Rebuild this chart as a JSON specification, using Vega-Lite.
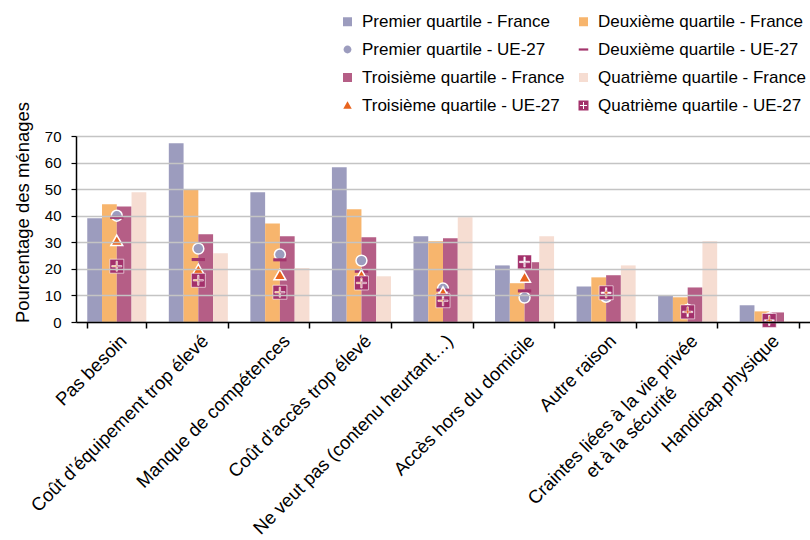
{
  "$schema": "https://vega.github.io/schema/vega-lite/v6.json",
  "width": 734,
  "height": 186,
  "autosize": {"type": "none"},
  "padding": {"left": 76, "top": 136, "right": 0, "bottom": 218},
  "background": "white",
  "config": {
    "font": "Liberation Sans",
    "view": {"stroke": null},
    "axis": {"labelColor": "black", "titleColor": "black", "domainColor": "black", "tickColor": "black"},
    "legend": {
      "orient": "none",
      "legendX": 263,
      "legendY": -123,
      "columns": 2,
      "columnPadding": 10,
      "rowPadding": 10,
      "labelFontSize": 17,
      "labelColor": "black",
      "labelOffset": 6,
      "labelLimit": 400,
      "symbolSize": 100,
      "symbolStrokeWidth": 0,
      "symbolOpacity": 1
    }
  },
  "datasets": {
    "bars": [
      {"raison": "Pas besoin", "serie": "Premier quartile - France", "valeur": 39},
      {"raison": "Pas besoin", "serie": "Deuxième quartile - France", "valeur": 44.3},
      {"raison": "Pas besoin", "serie": "Troisième quartile - France", "valeur": 43.5},
      {"raison": "Pas besoin", "serie": "Quatrième quartile - France", "valeur": 48.8},
      {"raison": "Coût d’équipement trop élevé", "serie": "Premier quartile - France", "valeur": 67.3},
      {"raison": "Coût d’équipement trop élevé", "serie": "Deuxième quartile - France", "valeur": 50},
      {"raison": "Coût d’équipement trop élevé", "serie": "Troisième quartile - France", "valeur": 33},
      {"raison": "Coût d’équipement trop élevé", "serie": "Quatrième quartile - France", "valeur": 25.9},
      {"raison": "Manque de compétences", "serie": "Premier quartile - France", "valeur": 48.8},
      {"raison": "Manque de compétences", "serie": "Deuxième quartile - France", "valeur": 37.1},
      {"raison": "Manque de compétences", "serie": "Troisième quartile - France", "valeur": 32.3},
      {"raison": "Manque de compétences", "serie": "Quatrième quartile - France", "valeur": 20.3},
      {"raison": "Coût d’accès trop élevé", "serie": "Premier quartile - France", "valeur": 58.2},
      {"raison": "Coût d’accès trop élevé", "serie": "Deuxième quartile - France", "valeur": 42.4},
      {"raison": "Coût d’accès trop élevé", "serie": "Troisième quartile - France", "valeur": 31.9},
      {"raison": "Coût d’accès trop élevé", "serie": "Quatrième quartile - France", "valeur": 17.2},
      {"raison": "Ne veut pas (contenu heurtant…)", "serie": "Premier quartile - France", "valeur": 32.3},
      {"raison": "Ne veut pas (contenu heurtant…)", "serie": "Deuxième quartile - France", "valeur": 30.4},
      {"raison": "Ne veut pas (contenu heurtant…)", "serie": "Troisième quartile - France", "valeur": 31.5},
      {"raison": "Ne veut pas (contenu heurtant…)", "serie": "Quatrième quartile - France", "valeur": 39.4},
      {"raison": "Accès hors du domicile", "serie": "Premier quartile - France", "valeur": 21.3},
      {"raison": "Accès hors du domicile", "serie": "Deuxième quartile - France", "valeur": 14.6},
      {"raison": "Accès hors du domicile", "serie": "Troisième quartile - France", "valeur": 22.5},
      {"raison": "Accès hors du domicile", "serie": "Quatrième quartile - France", "valeur": 32.3},
      {"raison": "Autre raison", "serie": "Premier quartile - France", "valeur": 13.4},
      {"raison": "Autre raison", "serie": "Deuxième quartile - France", "valeur": 16.8},
      {"raison": "Autre raison", "serie": "Troisième quartile - France", "valeur": 17.6},
      {"raison": "Autre raison", "serie": "Quatrième quartile - France", "valeur": 21.3},
      {"raison": "Craintes liées à la vie privée et à la sécurité", "serie": "Premier quartile - France", "valeur": 9.8},
      {"raison": "Craintes liées à la vie privée et à la sécurité", "serie": "Deuxième quartile - France", "valeur": 9.3},
      {"raison": "Craintes liées à la vie privée et à la sécurité", "serie": "Troisième quartile - France", "valeur": 13},
      {"raison": "Craintes liées à la vie privée et à la sécurité", "serie": "Quatrième quartile - France", "valeur": 30.4},
      {"raison": "Handicap physique", "serie": "Premier quartile - France", "valeur": 6.3},
      {"raison": "Handicap physique", "serie": "Deuxième quartile - France", "valeur": 4},
      {"raison": "Handicap physique", "serie": "Troisième quartile - France", "valeur": 3.6},
      {"raison": "Handicap physique", "serie": "Quatrième quartile - France", "valeur": 0.3}
    ],
    "points": [
      {"raison": "Pas besoin", "serie": "Premier quartile - UE-27", "valeur": 40},
      {"raison": "Pas besoin", "serie": "Deuxième quartile - UE-27", "valeur": 39.4},
      {"raison": "Pas besoin", "serie": "Troisième quartile - UE-27", "valeur": 30.5},
      {"raison": "Pas besoin", "serie": "Quatrième quartile - UE-27", "valeur": 21},
      {"raison": "Coût d’équipement trop élevé", "serie": "Premier quartile - UE-27", "valeur": 27.6},
      {"raison": "Coût d’équipement trop élevé", "serie": "Deuxième quartile - UE-27", "valeur": 23.5},
      {"raison": "Coût d’équipement trop élevé", "serie": "Troisième quartile - UE-27", "valeur": 19.5},
      {"raison": "Coût d’équipement trop élevé", "serie": "Quatrième quartile - UE-27", "valeur": 15.7},
      {"raison": "Manque de compétences", "serie": "Premier quartile - UE-27", "valeur": 25.4},
      {"raison": "Manque de compétences", "serie": "Deuxième quartile - UE-27", "valeur": 23.4},
      {"raison": "Manque de compétences", "serie": "Troisième quartile - UE-27", "valeur": 17.6},
      {"raison": "Manque de compétences", "serie": "Quatrième quartile - UE-27", "valeur": 11.2},
      {"raison": "Coût d’accès trop élevé", "serie": "Premier quartile - UE-27", "valeur": 23.1},
      {"raison": "Coût d’accès trop élevé", "serie": "Deuxième quartile - UE-27", "valeur": 19.1},
      {"raison": "Coût d’accès trop élevé", "serie": "Troisième quartile - UE-27", "valeur": 17.5},
      {"raison": "Coût d’accès trop élevé", "serie": "Quatrième quartile - UE-27", "valeur": 14.7},
      {"raison": "Ne veut pas (contenu heurtant…)", "serie": "Premier quartile - UE-27", "valeur": 12.6},
      {"raison": "Ne veut pas (contenu heurtant…)", "serie": "Deuxième quartile - UE-27", "valeur": 12},
      {"raison": "Ne veut pas (contenu heurtant…)", "serie": "Troisième quartile - UE-27", "valeur": 11},
      {"raison": "Ne veut pas (contenu heurtant…)", "serie": "Quatrième quartile - UE-27", "valeur": 8},
      {"raison": "Accès hors du domicile", "serie": "Premier quartile - UE-27", "valeur": 9.2},
      {"raison": "Accès hors du domicile", "serie": "Deuxième quartile - UE-27", "valeur": 11.7},
      {"raison": "Accès hors du domicile", "serie": "Troisième quartile - UE-27", "valeur": 16.7},
      {"raison": "Accès hors du domicile", "serie": "Quatrième quartile - UE-27", "valeur": 22.6},
      {"raison": "Autre raison", "serie": "Premier quartile - UE-27", "valeur": 9.5},
      {"raison": "Autre raison", "serie": "Deuxième quartile - UE-27", "valeur": 9},
      {"raison": "Autre raison", "serie": "Troisième quartile - UE-27", "valeur": 10.5},
      {"raison": "Autre raison", "serie": "Quatrième quartile - UE-27", "valeur": 11},
      {"raison": "Craintes liées à la vie privée et à la sécurité", "serie": "Premier quartile - UE-27", "valeur": 4.5},
      {"raison": "Craintes liées à la vie privée et à la sécurité", "serie": "Deuxième quartile - UE-27", "valeur": 4},
      {"raison": "Craintes liées à la vie privée et à la sécurité", "serie": "Troisième quartile - UE-27", "valeur": 4.5},
      {"raison": "Craintes liées à la vie privée et à la sécurité", "serie": "Quatrième quartile - UE-27", "valeur": 3.8},
      {"raison": "Handicap physique", "serie": "Premier quartile - UE-27", "valeur": 1.4},
      {"raison": "Handicap physique", "serie": "Deuxième quartile - UE-27", "valeur": 1},
      {"raison": "Handicap physique", "serie": "Troisième quartile - UE-27", "valeur": 0.8},
      {"raison": "Handicap physique", "serie": "Quatrième quartile - UE-27", "valeur": 0.6}
    ]
  },
  "encoding": {
    "x": {
      "field": "raison",
      "type": "nominal",
      "sort": null,
      "scale": {
        "domain": ["Pas besoin", "Coût d’équipement trop élevé", "Manque de compétences", "Coût d’accès trop élevé", "Ne veut pas (contenu heurtant…)", "Accès hors du domicile", "Autre raison", "Craintes liées à la vie privée et à la sécurité", "Handicap physique"],
        "paddingInner": 0.276,
        "paddingOuter": 0.138
      },
      "axis": {
        "title": null,
        "zindex": 1,
        "labelAngle": -45,
        "labelAlign": "right",
        "labelBaseline": "top",
        "labelFontSize": 18.5,
        "labelPadding": 3,
        "labelLimit": 400,
        "labelLineHeight": 22,
        "labelOverlap": false,
        "domainWidth": 1.5,
        "tickWidth": 1.5,
        "tickSize": 6,
        "tickBand": "extent",
        "grid": false,
        "labelExpr": "datum.value == 'Craintes liées à la vie privée et à la sécurité' ? ['Craintes liées à la vie privée', 'et à la sécurité\u00a0\u00a0\u00a0\u00a0\u00a0\u00a0\u00a0\u00a0\u00a0\u00a0\u2060'] : datum.value"
      }
    },
    "y": {
      "field": "valeur",
      "type": "quantitative",
      "scale": {"domain": [0, 70], "nice": false},
      "axis": {
        "title": "Pourcentage des ménages",
        "zindex": 1,
        "titleFontSize": 18.5,
        "titleFontWeight": "normal",
        "titlePadding": 12,
        "titleY": 76,
        "values": [0, 10, 20, 30, 40, 50, 60, 70],
        "labelOverlap": false,
        "labelFontSize": 15,
        "labelPadding": 10,
        "tickSize": 5,
        "tickWidth": 1.2,
        "domainWidth": 1.5,
        "grid": true,
        "gridColor": "#c4c4c4",
        "gridWidth": 1.5
      }
    },
    "color": {
      "field": "serie",
      "type": "nominal",
      "scale": {
        "domain": ["Premier quartile - France", "Premier quartile - UE-27", "Troisième quartile - France", "Troisième quartile - UE-27", "Deuxième quartile - France", "Deuxième quartile - UE-27", "Quatrième quartile - France", "Quatrième quartile - UE-27"],
        "range": ["#9c9cbe", "#9c9cbe", "#b55e86", "#e8641e", "#f7b56d", "#a3346c", "#f6ddd2", "#a3306b"]
      },
      "legend": {"title": null}
    }
  },
  "layer": [
    {
      "data": {"name": "bars"},
      "mark": {"type": "bar"},
      "encoding": {
        "xOffset": {
          "field": "serie",
          "type": "nominal",
          "sort": ["Premier quartile - France", "Deuxième quartile - France", "Troisième quartile - France", "Quatrième quartile - France"],
          "scale": {"paddingInner": 0, "paddingOuter": 0}
        }
      }
    },
    {
      "data": {"name": "points"},
      "mark": {"type": "point", "filled": true, "opacity": 1, "size": 196, "stroke": "white"},
      "encoding": {
        "shape": {
          "field": "serie",
          "type": "nominal",
          "legend": {"title": null},
          "scale": {
            "domain": ["Premier quartile - France", "Premier quartile - UE-27", "Troisième quartile - France", "Troisième quartile - UE-27", "Deuxième quartile - France", "Deuxième quartile - UE-27", "Quatrième quartile - France", "Quatrième quartile - UE-27"],
            "range": [
              "M-0.9,-0.9H0.9V0.9H-0.9Z",
              "M-0.78,0A0.78,0.78 0 1,0 0.78,0A0.78,0.78 0 1,0 -0.78,0Z",
              "M-0.9,-0.9H0.9V0.9H-0.9Z",
              "M0,-0.85L0.85,0.65L-0.85,0.65Z",
              "M-0.9,-0.9H0.9V0.9H-0.9Z",
              "M-0.95,-0.22H0.95V0.22H-0.95Z",
              "M-0.9,-0.9H0.9V0.9H-0.9Z",
              "M-1,-1H1V1H-1Z M-0.1,-0.72L-0.1,-0.1L-0.72,-0.1L-0.72,0.1L-0.1,0.1L-0.1,0.72L0.1,0.72L0.1,0.1L0.72,0.1L0.72,-0.1L0.1,-0.1L0.1,-0.72Z"
            ]
          }
        },
        "strokeWidth": {
          "condition": [
            {"test": "datum.serie == 'Deuxième quartile - UE-27'", "value": 0},
            {"test": "datum.serie == 'Quatrième quartile - UE-27'", "value": 0.6}
          ],
          "value": 1.5
        }
      }
    }
  ]
}
